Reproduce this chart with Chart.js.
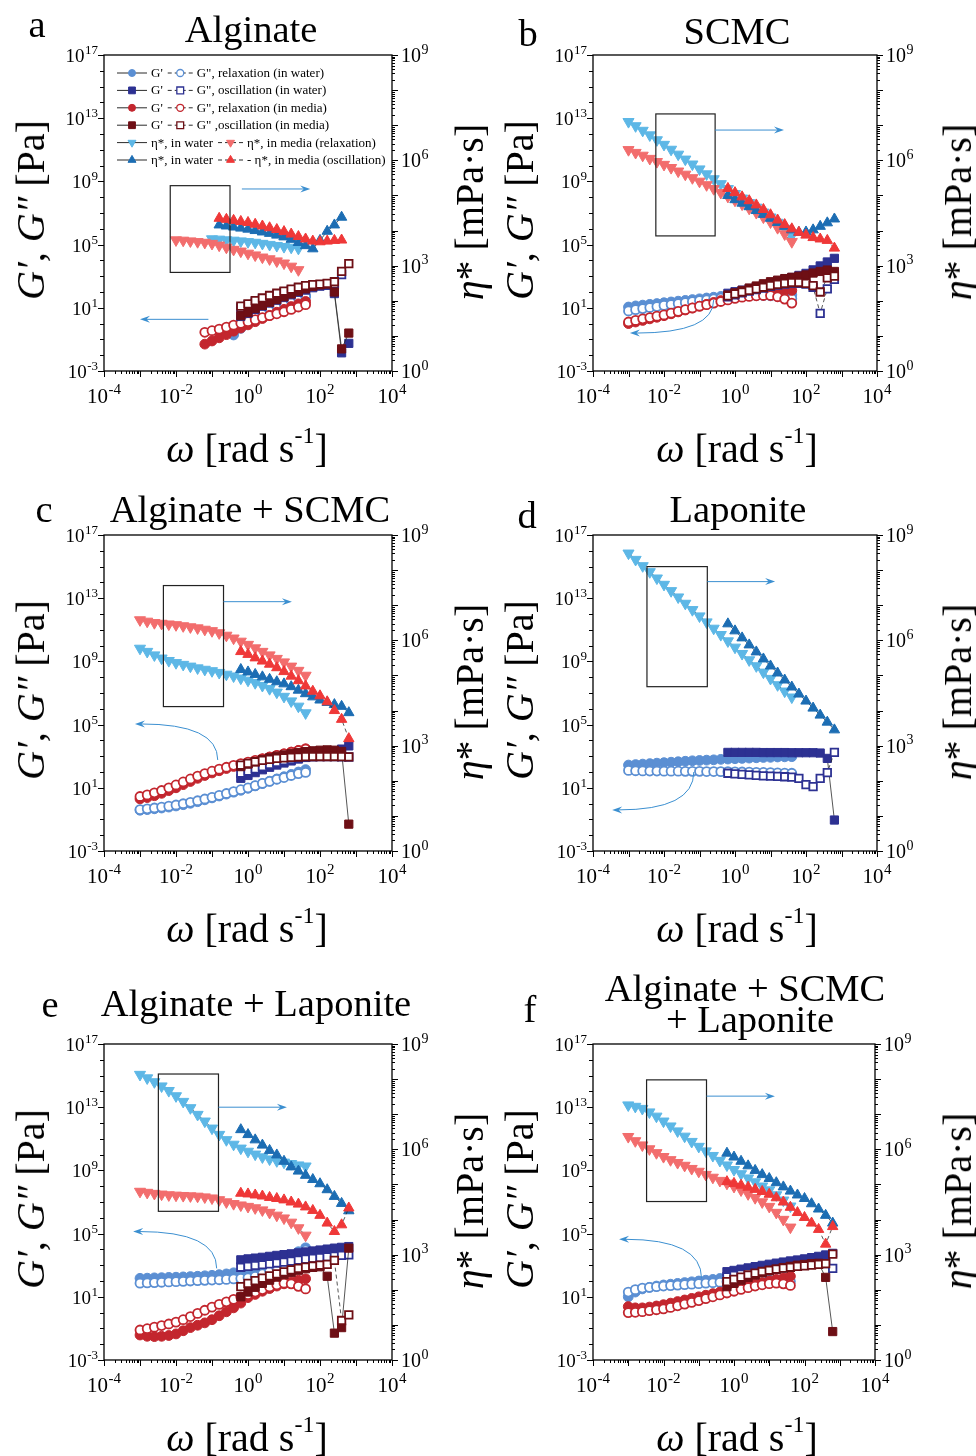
<!DOCTYPE html>
<html>
<head>
<meta charset="utf-8">
<script src="https://cdn.jsdelivr.net/npm/chart.js"></script>
<style>
  body { margin: 0; background: #fff; }
  #page { position: relative; width: 976px; height: 1456px; overflow: hidden; }
  .panel { position: absolute; width: 488px; height: 466px; }
  .lbl { position: absolute; transform: translate(-50%, -50%); white-space: nowrap; line-height: 1;
         font-family: "Liberation Serif", "Times New Roman", serif; color: #000; }
  .big { font-size: 38.5px; }
  .axt { font-size: 40px; }
  .vert { transform: translate(-50%, -50%) rotate(-90deg); }
  sup { font-size: 0.6em; position: relative; top: -0.15em; }
</style>
</head>
<body>
<div id="page">
  <div class="panel" style="left:0;top:0"><canvas id="pa" width="488" height="466"></canvas></div>
  <div class="panel" style="left:488px;top:0"><canvas id="pb" width="488" height="466"></canvas></div>
  <div class="panel" style="left:0;top:480px"><canvas id="pc" width="488" height="466"></canvas></div>
  <div class="panel" style="left:488px;top:480px"><canvas id="pd" width="488" height="466"></canvas></div>
  <div class="panel" style="left:0;top:990px"><canvas id="pe" width="488" height="466"></canvas></div>
  <div class="panel" style="left:488px;top:990px"><canvas id="pf" width="488" height="466"></canvas></div>

  <!-- panel letters and titles -->
  <div class="lbl big" style="left:37px;top:24px">a</div>
  <div class="lbl big" style="left:251px;top:29px">Alginate</div>
  <div class="lbl big" style="left:528px;top:33px">b</div>
  <div class="lbl big" style="left:737px;top:31px">SCMC</div>
  <div class="lbl big" style="left:44px;top:509px">c</div>
  <div class="lbl big" style="left:250px;top:509px">Alginate + SCMC</div>
  <div class="lbl big" style="left:527px;top:515px">d</div>
  <div class="lbl big" style="left:738px;top:509px">Laponite</div>
  <div class="lbl big" style="left:50px;top:1004px">e</div>
  <div class="lbl big" style="left:256px;top:1003px">Alginate + Laponite</div>
  <div class="lbl big" style="left:530px;top:1009px">f</div>
  <div class="lbl big" style="left:745px;top:988px">Alginate + SCMC</div>
  <div class="lbl big" style="left:750px;top:1019px">+ Laponite</div>

  <!-- axis titles -->
  <div class="lbl axt vert" style="left:31px;top:210px"><i>G′</i>, <i>G″</i> [Pa]</div>
  <div class="lbl axt vert" style="left:520px;top:210px"><i>G′</i>, <i>G″</i> [Pa]</div>
  <div class="lbl axt vert" style="left:31px;top:690px"><i>G′</i>, <i>G″</i> [Pa]</div>
  <div class="lbl axt vert" style="left:520px;top:690px"><i>G′</i>, <i>G″</i> [Pa]</div>
  <div class="lbl axt vert" style="left:31px;top:1199px"><i>G′</i>, <i>G″</i> [Pa]</div>
  <div class="lbl axt vert" style="left:520px;top:1199px"><i>G′</i>, <i>G″</i> [Pa]</div>

  <div class="lbl axt vert" style="left:470px;top:212px"><i>η</i>* [mPa·s]</div>
  <div class="lbl axt vert" style="left:958px;top:212px"><i>η</i>* [mPa·s]</div>
  <div class="lbl axt vert" style="left:470px;top:692px"><i>η</i>* [mPa·s]</div>
  <div class="lbl axt vert" style="left:958px;top:692px"><i>η</i>* [mPa·s]</div>
  <div class="lbl axt vert" style="left:470px;top:1201px"><i>η</i>* [mPa·s]</div>
  <div class="lbl axt vert" style="left:958px;top:1201px"><i>η</i>* [mPa·s]</div>

  <div class="lbl axt" style="left:247px;top:448px"><i>ω</i> [rad s<sup>-1</sup>]</div>
  <div class="lbl axt" style="left:737px;top:448px"><i>ω</i> [rad s<sup>-1</sup>]</div>
  <div class="lbl axt" style="left:247px;top:928px"><i>ω</i> [rad s<sup>-1</sup>]</div>
  <div class="lbl axt" style="left:737px;top:928px"><i>ω</i> [rad s<sup>-1</sup>]</div>
  <div class="lbl axt" style="left:247px;top:1437px"><i>ω</i> [rad s<sup>-1</sup>]</div>
  <div class="lbl axt" style="left:737px;top:1437px"><i>ω</i> [rad s<sup>-1</sup>]</div>
</div>

<script>
const _ = null;

// angular frequency grids, log10(rad/s)
const relaxLogW = [-3.0, -2.8, -2.6, -2.4, -2.2, -2.0, -1.8, -1.6, -1.4, -1.2, -1.0, -0.8,
                   -0.6, -0.4, -0.2, 0.0, 0.2, 0.4, 0.6, 0.8, 1.0, 1.2, 1.4, 1.6];
const oscLogW = [-0.8, -0.6, -0.4, -0.2, 0.0, 0.2, 0.4, 0.6, 0.8, 1.0, 1.2, 1.4, 1.6, 1.8,
                 2.0, 2.2, 2.4, 2.6, 2.8];

// tick label exponents
const xTickExp = [-4, -2, 0, 2, 4];
const gTickExp = [17, 13, 9, 5, 1, -3];
const etaTickExp = [0, 3, 6, 9];

// all series below are log10 values (G in Pa, eta* in mPa.s)

// a - Alginate
const a_GpWRel  = [_,_,_,_,_,_,_,_,_,_,_,_,_, -0.72,-0.3,0.05,0.35,0.6,0.85,1.05,1.25,1.45,1.6,1.75];
const a_GppWRel = [_,_,_,_,_,_,_,_,_,_,_,_,_, -0.5,-0.15,0.15,0.42,0.65,0.88,1.08,1.28,1.45,1.6,1.72];
const a_GpMRel  = [_,_,_,_,_,_,_,_,_, -1.3,-1.1,-0.9,-0.7,-0.48,-0.28,-0.08,0.12,0.32,0.52,0.72,0.9,1.08,1.25,1.4];
const a_GppMRel = [_,_,_,_,_,_,_,_,_, -0.55,-0.45,-0.35,-0.22,-0.1,0.02,0.12,0.25,0.38,0.5,0.62,0.75,0.9,1.05,1.2];
const a_etaWRel = [_,_,_,_,_,_,_,_,_,_, 3.76,3.75,3.73,3.72,3.70,3.68,3.66,3.63,3.60,3.57,3.54,3.52,3.49,_];
const a_etaMRel = [_,_,_,_,_, 3.73,3.72,3.70,3.68,3.66,3.63,3.58,3.52,3.46,3.41,3.35,3.30,3.24,3.19,3.13,3.07,2.98,2.88,_];
const a_GpWOsc  = [_,_,_, 0.45,0.65,0.9,1.1,1.3,1.48,1.65,1.82,1.98,2.12,2.27,2.37,2.42,1.9,-1.85,-1.25];
const a_GppWOsc = [_,_,_, 1.0,1.18,1.38,1.55,1.7,1.85,2.0,2.12,2.24,2.34,2.42,2.46,2.5,2.5,3.1,_];
const a_GpMOsc  = [_,_,_, 0.5,0.7,0.95,1.15,1.35,1.52,1.7,1.88,2.05,2.2,2.35,2.45,2.5,2.0,-1.6,-0.6];
const a_GppMOsc = [_,_,_, 1.1,1.25,1.45,1.62,1.78,1.92,2.06,2.18,2.3,2.4,2.47,2.5,2.55,2.65,3.3,3.8];
const a_etaWOsc = [4.16,4.13,4.10,4.07,4.04,4.00,3.96,3.92,3.87,3.82,3.75,3.66,3.57,3.48,3.72,3.98,4.16,4.38,_];
const a_etaMOsc = [4.35,4.32,4.29,4.26,4.23,4.18,4.13,4.08,4.03,3.97,3.90,3.83,3.76,3.70,3.68,3.70,3.72,3.73,_];

// b - SCMC
const b_GpWRel  = [1.05,1.12,1.17,1.22,1.27,1.32,1.37,1.42,1.47,1.52,1.57,1.62,1.67,1.72,1.76,1.80,1.83,1.85,1.87,1.88,1.88,1.87,1.85,1.82];
const b_GppWRel = [0.8,0.88,0.95,1.02,1.08,1.15,1.21,1.27,1.33,1.39,1.45,1.5,1.56,1.61,1.66,1.7,1.74,1.76,1.78,1.78,1.76,1.72,1.66,1.58];
const b_GpMRel  = [0.0,0.1,0.2,0.3,0.4,0.5,0.62,0.74,0.86,0.98,1.1,1.22,1.34,1.46,1.58,1.7,1.8,1.88,1.95,2.0,2.04,2.07,2.09,2.1];
const b_GppMRel = [0.1,0.2,0.3,0.38,0.47,0.55,0.66,0.77,0.88,0.99,1.1,1.2,1.3,1.4,1.5,1.6,1.67,1.72,1.76,1.78,1.78,1.7,1.55,1.3];
const b_etaWRel = [7.10,6.98,6.85,6.72,6.58,6.45,6.31,6.17,6.03,5.89,5.75,5.61,5.47,5.33,5.19,5.05,4.92,4.79,4.66,4.52,4.38,4.23,4.05,3.85];
const b_etaMRel = [6.30,6.22,6.14,6.05,5.96,5.88,5.79,5.69,5.60,5.50,5.40,5.30,5.19,5.08,4.97,4.86,4.75,4.63,4.51,4.38,4.24,4.08,3.90,3.68];
const b_GpWOsc  = [_,_,_, 1.92,2.02,2.12,2.22,2.33,2.44,2.55,2.67,2.8,2.92,3.05,3.18,3.4,3.65,3.9,4.13];
const b_GppWOsc = [_,_,_, 1.7,1.82,1.95,2.05,2.15,2.25,2.35,2.43,2.5,2.55,2.55,2.5,2.3,0.65,2.2,2.8];
const b_GpMOsc  = [_,_,_, 1.81,1.95,2.1,2.25,2.38,2.52,2.65,2.75,2.85,2.93,3.0,3.08,3.2,3.3,3.39,3.3];
const b_GppMOsc = [_,_,_, 1.75,1.88,2.0,2.1,2.2,2.3,2.4,2.48,2.55,2.6,2.6,2.55,2.4,2.0,2.9,3.0];
const b_etaWOsc = [_,_,_, 5.0,4.88,4.78,4.68,4.57,4.46,4.35,4.23,4.12,4.02,3.95,3.96,4.02,4.12,4.22,4.33];
const b_etaMOsc = [_,_,_, 5.2,5.08,4.96,4.85,4.73,4.6,4.45,4.3,4.17,4.05,3.95,3.87,3.8,3.76,3.72,3.5];

// c - Alginate + SCMC
const c_GpWRel  = [-0.42,-0.38,-0.33,-0.28,-0.22,-0.15,-0.07,0.02,0.12,0.24,0.36,0.48,0.6,0.72,0.84,0.97,1.12,1.27,1.42,1.56,1.7,1.85,2.0,2.15];
const c_GppWRel = [-0.38,-0.33,-0.28,-0.22,-0.16,-0.09,-0.01,0.08,0.18,0.29,0.4,0.52,0.64,0.76,0.88,1.0,1.14,1.28,1.41,1.54,1.65,1.78,1.9,1.97];
const c_GpMRel  = [0.3,0.38,0.5,0.65,0.82,1.0,1.2,1.4,1.6,1.78,1.94,2.08,2.22,2.35,2.47,2.58,2.7,2.82,2.93,3.04,3.15,3.26,3.37,3.47];
const c_GppMRel = [0.45,0.55,0.68,0.83,1.0,1.18,1.37,1.56,1.74,1.9,2.05,2.18,2.3,2.42,2.53,2.63,2.74,2.85,2.95,3.05,3.15,3.25,3.35,3.45];
const c_etaWRel = [5.77,5.68,5.58,5.49,5.42,5.36,5.31,5.26,5.21,5.17,5.13,5.08,5.03,4.98,4.92,4.86,4.79,4.71,4.62,4.52,4.40,4.27,4.12,3.93];
const c_etaMRel = [6.58,6.54,6.50,6.48,6.46,6.44,6.41,6.38,6.35,6.31,6.27,6.21,6.14,6.06,5.97,5.88,5.78,5.68,5.58,5.48,5.38,5.26,5.14,5.00];
const c_GpWOsc  = [_,_,_, 1.6,1.78,1.96,2.14,2.3,2.44,2.57,2.7,2.82,2.92,3.02,3.1,3.2,3.3,3.45,3.65];
const c_GppWOsc = [_,_,_, 1.92,2.05,2.2,2.34,2.48,2.6,2.72,2.8,2.88,2.93,2.96,2.98,2.98,2.97,2.96,2.95];
const c_GpMOsc  = [_,_,_, 2.34,2.5,2.65,2.78,2.9,3.0,3.08,3.16,3.23,3.29,3.34,3.38,3.4,3.38,3.3,-1.3];
const c_GppMOsc = [_,_,_, 2.44,2.55,2.65,2.74,2.8,2.86,2.9,2.93,2.95,2.97,2.98,2.98,2.98,2.98,2.97,2.96];
const c_etaWOsc = [_,_,_, 5.17,5.1,5.03,4.96,4.89,4.82,4.76,4.68,4.58,4.48,4.39,4.3,4.23,4.17,4.12,3.94];
const c_etaMOsc = [_,_,_, 5.68,5.6,5.5,5.41,5.32,5.22,5.11,4.98,4.85,4.7,4.55,4.42,4.25,4.0,3.75,3.2];

// d - Laponite (water only)
const d_GpWRel  = [2.44,2.47,2.5,2.53,2.56,2.59,2.62,2.65,2.68,2.71,2.73,2.75,2.77,2.8,2.82,2.84,2.86,2.88,2.9,2.92,2.93,2.95,2.96,2.97];
const d_GppWRel = [2.1,2.08,2.07,2.06,2.06,2.05,2.05,2.05,2.04,2.04,2.04,2.03,2.03,2.02,2.02,2.01,2.0,1.99,1.98,1.97,1.96,1.95,1.93,1.92];
const d_etaWRel = [8.48,8.30,8.12,7.95,7.77,7.59,7.41,7.23,7.05,6.87,6.69,6.52,6.34,6.16,5.98,5.80,5.62,5.44,5.27,5.09,4.91,4.73,4.55,4.38];
const d_GpWOsc  = [_,_,_, 3.24,3.24,3.24,3.24,3.24,3.23,3.23,3.23,3.23,3.22,3.22,3.22,3.22,3.2,2.86,-1.04];
const d_GppWOsc = [_,_,_, 1.92,1.88,1.85,1.82,1.79,1.76,1.74,1.72,1.7,1.68,1.6,1.2,1.08,1.6,1.96,3.24];
const d_etaWOsc = [_,_,_, 6.47,6.27,6.07,5.87,5.67,5.47,5.27,5.07,4.87,4.67,4.47,4.27,4.07,3.87,3.67,3.45];

// e - Alginate + Laponite
const e_GpWRel  = [2.17,2.18,2.2,2.21,2.23,2.24,2.26,2.28,2.3,2.33,2.36,2.4,2.45,2.52,2.6,2.7,2.82,2.96,3.1,3.25,3.4,3.6,3.85,4.1];
const e_GppWRel = [1.86,1.88,1.9,1.92,1.94,1.96,1.98,2.0,2.02,2.04,2.06,2.08,2.1,2.13,2.16,2.2,2.3,2.45,2.62,2.8,3.0,3.25,3.55,3.95];
const e_GpMRel  = [-1.42,-1.5,-1.52,-1.5,-1.45,-1.35,-1.15,-0.95,-0.8,-0.65,-0.45,-0.2,0.05,0.3,0.6,0.95,1.15,1.35,1.52,1.68,1.82,1.95,2.05,2.14];
const e_GppMRel = [-1.1,-1.02,-0.92,-0.82,-0.72,-0.6,-0.45,-0.25,-0.05,0.15,0.35,0.52,0.68,0.84,1.0,1.14,1.3,1.46,1.62,1.76,1.86,1.82,1.66,1.5];
const e_etaWRel = [8.13,8.03,7.92,7.80,7.67,7.52,7.36,7.18,6.99,6.80,6.60,6.42,6.27,6.14,6.03,5.94,5.86,5.78,5.72,5.67,5.63,5.59,5.55,5.52];
const e_etaMRel = [4.80,4.77,4.74,4.72,4.70,4.69,4.68,4.67,4.66,4.64,4.61,4.56,4.50,4.45,4.41,4.37,4.33,4.27,4.20,4.12,4.04,3.92,3.76,3.55];
const e_GpWOsc  = [_,_,_, 3.34,3.4,3.45,3.5,3.56,3.62,3.67,3.72,3.78,3.84,3.9,3.96,4.02,4.08,4.13,4.18];
const e_GppWOsc = [_,_,_, 2.87,2.93,2.98,3.03,3.08,3.14,3.2,3.26,3.32,3.38,3.43,3.48,3.53,3.58,3.62,3.65];
const e_GpMOsc  = [_,_,_, 1.0,1.3,1.6,1.85,2.05,2.25,2.4,2.55,2.68,2.78,2.86,2.9,2.3,-1.3,-0.95,4.08];
const e_GppMOsc = [_,_,_, 1.65,1.85,2.02,2.18,2.32,2.45,2.58,2.7,2.8,2.88,2.95,3.0,3.05,3.3,-0.5,-0.15];
const e_etaWOsc = [_,_,_, 6.56,6.42,6.27,6.12,5.97,5.84,5.66,5.5,5.38,5.26,5.14,5.02,4.85,4.66,4.46,4.25];
const e_etaMOsc = [_,_,_, 4.75,4.73,4.7,4.67,4.63,4.6,4.56,4.5,4.44,4.36,4.26,4.12,3.9,3.66,3.85,4.33];

// f - Alginate + SCMC + Laponite
const f_GpWRel  = [1.0,1.3,1.5,1.6,1.68,1.75,1.8,1.85,1.9,1.95,2.0,2.05,2.1,2.16,2.22,2.28,2.35,2.42,2.5,2.58,2.66,2.74,2.82,2.9];
const f_GppWRel = [1.3,1.45,1.55,1.6,1.64,1.68,1.71,1.74,1.77,1.8,1.83,1.86,1.89,1.92,1.95,1.98,2.0,2.02,2.04,2.05,2.06,2.05,2.02,1.97];
const f_GpMRel  = [0.38,0.3,0.3,0.35,0.42,0.5,0.6,0.7,0.8,0.9,1.0,1.1,1.2,1.3,1.4,1.5,1.6,1.7,1.8,1.9,2.0,2.1,2.2,2.3];
const f_GppMRel = [0.0,0.02,0.06,0.12,0.18,0.24,0.33,0.43,0.54,0.65,0.76,0.88,1.0,1.12,1.24,1.35,1.47,1.58,1.68,1.76,1.83,1.86,1.82,1.72];
const f_etaWRel = [7.26,7.22,7.16,7.06,6.94,6.80,6.66,6.52,6.37,6.22,6.08,5.95,5.82,5.68,5.55,5.42,5.30,5.18,5.07,4.95,4.84,4.70,4.55,4.38];
const f_etaMRel = [6.36,6.24,6.12,6.01,5.90,5.79,5.70,5.62,5.54,5.45,5.37,5.28,5.20,5.11,5.03,4.94,4.84,4.73,4.62,4.50,4.37,4.20,4.00,3.78];
const f_GpWOsc  = [_,_,_, 2.59,2.67,2.75,2.83,2.91,2.99,3.06,3.13,3.2,3.27,3.33,3.4,3.48,3.56,3.65,3.75];
const f_GppWOsc = [_,_,_, 2.27,2.35,2.43,2.5,2.58,2.65,2.72,2.79,2.86,2.92,2.98,3.03,3.08,3.12,3.1,2.8];
const f_GpMOsc  = [_,_,_, 1.64,1.85,2.05,2.22,2.38,2.52,2.64,2.75,2.85,2.93,3.0,3.05,3.1,3.12,2.23,-1.2];
const f_GppMOsc = [_,_,_, 1.96,2.1,2.25,2.38,2.5,2.6,2.68,2.75,2.82,2.87,2.92,2.96,3.0,3.05,3.1,3.7];
const f_etaWOsc = [_,_,_, 5.89,5.78,5.66,5.53,5.4,5.28,5.17,5.05,4.93,4.81,4.7,4.6,4.45,4.3,4.12,3.9];
const f_etaMOsc = [_,_,_, 5.08,5.03,4.98,4.92,4.86,4.8,4.72,4.62,4.5,4.35,4.2,4.06,3.9,3.72,3.3,3.8];

// Series styles (order: lower = drawn on top)
const FONT = '"Liberation Serif", "Times New Roman", serif';
const LINE = '#2b2b2b';
const styles = {
  GpWRel:  { color: '#5b8fd3', shape: 'circle',   r: 4.9, open: false, dash: false, axis: 'yL', order: 11 },
  GppWRel: { color: '#5b8fd3', shape: 'circle',   r: 4.5, open: true,  dash: true,  axis: 'yL', order: 10 },
  GpWOsc:  { color: '#2d3192', shape: 'rect',     r: 5.8, open: false, dash: false, axis: 'yL', order: 7 },
  GppWOsc: { color: '#2d3192', shape: 'rect',     r: 5.3, open: true,  dash: true,  axis: 'yL', order: 6 },
  GpMRel:  { color: '#c3262e', shape: 'circle',   r: 4.9, open: false, dash: false, axis: 'yL', order: 9 },
  GppMRel: { color: '#c3262e', shape: 'circle',   r: 4.5, open: true,  dash: true,  axis: 'yL', order: 8 },
  GpMOsc:  { color: '#6e0f15', shape: 'rect',     r: 5.8, open: false, dash: false, axis: 'yL', order: 5 },
  GppMOsc: { color: '#6e0f15', shape: 'rect',     r: 5.3, open: true,  dash: true,  axis: 'yL', order: 4 },
  etaWRel: { color: '#5db7e6', shape: 'triangle', r: 6.4, rot: 180, dash: false, axis: 'yR', order: 3 },
  etaMRel: { color: '#f26d6d', shape: 'triangle', r: 6.4, rot: 180, dash: true,  axis: 'yR', order: 2 },
  etaWOsc: { color: '#1c6db3', shape: 'triangle', r: 6.0, rot: 0,   dash: false, axis: 'yR', order: 1 },
  etaMOsc: { color: '#ef3838', shape: 'triangle', r: 6.0, rot: 0,   dash: true,  axis: 'yR', order: 0 }
};

// Legend rows (panel a only)
const legendRows = [
  ['GpWRel', "G'", 'GppWRel', 'G", relaxation (in water)'],
  ['GpWOsc', "G'", 'GppWOsc', 'G", oscillation (in water)'],
  ['GpMRel', "G'", 'GppMRel', 'G", relaxation (in media)'],
  ['GpMOsc', "G'", 'GppMOsc', 'G" ,oscillation (in media)'],
  ['etaWRel', 'η*, in water', 'etaMRel', 'η*, in media (relaxation)'],
  ['etaWOsc', 'η*, in water', 'etaMOsc', '- η*, in media (oscillation)']
];

function makeDataset(key, logV) {
  const s = styles[key];
  const logW = key.includes('Rel') ? relaxLogW : oscLogW;
  const pts = [];
  logW.forEach((w, i) => {
    if (logV[i] !== null && logV[i] !== undefined) pts.push({ x: Math.pow(10, w), y: Math.pow(10, logV[i]) });
  });
  return {
    data: pts,
    yAxisID: s.axis,
    showLine: true,
    borderColor: LINE,
    borderWidth: 0.8,
    borderDash: s.dash ? [4, 3] : [],
    pointStyle: s.shape,
    pointRotation: s.rot || 0,
    pointRadius: s.r,
    pointHoverRadius: s.r,
    pointBackgroundColor: s.open ? '#ffffff' : s.color,
    pointBorderColor: s.color,
    pointBorderWidth: s.open ? 1.8 : 1,
    order: s.order
  };
}

// draw a marker shape by hand (legend)
function marker(ctx, s, x, y, r) {
  ctx.beginPath();
  if (s.shape === 'circle') {
    ctx.arc(x, y, r, 0, Math.PI * 2);
  } else if (s.shape === 'rect') {
    const h = r * Math.SQRT1_2;
    ctx.rect(x - h, y - h, 2 * h, 2 * h);
  } else {
    const d = s.rot ? -1 : 1;
    ctx.moveTo(x, y - d * r);
    ctx.lineTo(x + r * 0.866, y + d * r * 0.5);
    ctx.lineTo(x - r * 0.866, y + d * r * 0.5);
    ctx.closePath();
  }
  ctx.fillStyle = s.open ? '#fff' : s.color;
  ctx.strokeStyle = s.color;
  ctx.lineWidth = s.open ? 1.3 : 1;
  ctx.fill();
  ctx.stroke();
}

// "10" with a raised exponent
function drawPow(ctx, exp, x, y, align, size) {
  const sub = Math.round(size * 0.7);
  ctx.font = size + 'px ' + FONT;
  const wb = ctx.measureText('10').width;
  ctx.font = sub + 'px ' + FONT;
  const ws = ctx.measureText(String(exp)).width;
  const w = wb + ws + 0.5;
  const x0 = align === 'right' ? x - w : align === 'center' ? x - w / 2 : x;
  ctx.textAlign = 'left';
  ctx.textBaseline = 'alphabetic';
  ctx.fillStyle = '#000';
  ctx.font = size + 'px ' + FONT;
  ctx.fillText('10', x0, y);
  ctx.font = sub + 'px ' + FONT;
  ctx.fillText(String(exp), x0 + wb + 0.5, y - size * 0.42);
}

function arrowHead(ctx, x, y, ang) {
  ctx.beginPath();
  ctx.moveTo(x, y);
  ctx.lineTo(x - 10 * Math.cos(ang) + 3.5 * Math.sin(ang), y - 10 * Math.sin(ang) - 3.5 * Math.cos(ang));
  ctx.lineTo(x - 6.5 * Math.cos(ang), y - 6.5 * Math.sin(ang));
  ctx.lineTo(x - 10 * Math.cos(ang) - 3.5 * Math.sin(ang), y - 10 * Math.sin(ang) + 3.5 * Math.cos(ang));
  ctx.closePath();
  ctx.fill();
}

const axesPlugin = {
  id: 'rheoAxes',
  afterDatasetsDraw(chart, args, opts) {
    const ctx = chart.ctx;
    const { left, right, top, bottom } = chart.chartArea;
    const sx = chart.scales.x, sl = chart.scales.yL, sr = chart.scales.yR;
    const px = v => sx.getPixelForValue(Math.pow(10, v));
    const pl = v => sl.getPixelForValue(Math.pow(10, v));
    const pr = v => sr.getPixelForValue(Math.pow(10, v));
    ctx.save();

    // guide box and arrows
    const an = opts.ann;
    ctx.strokeStyle = '#222';
    ctx.lineWidth = 1.2;
    ctx.strokeRect(px(an.box[0]), pl(an.box[3]), px(an.box[1]) - px(an.box[0]), pl(an.box[2]) - pl(an.box[3]));
    ctx.strokeStyle = '#3b8fd0';
    ctx.fillStyle = '#3b8fd0';
    ctx.lineWidth = 1;
    const ar = an.right;
    ctx.beginPath();
    ctx.moveTo(px(ar[0]), pl(ar[2]));
    ctx.lineTo(px(ar[1]) - 6, pl(ar[2]));
    ctx.stroke();
    arrowHead(ctx, px(ar[1]), pl(ar[2]), 0);
    const al = an.left;
    const x0 = px(al[0]), y0 = pl(al[1]), x1 = px(al[2]), y1 = pl(al[3]);
    ctx.beginPath();
    ctx.moveTo(x0, y0);
    if (an.curved) ctx.quadraticCurveTo(x0, y1, x1 + 6, y1);
    else ctx.lineTo(x1 + 6, y1);
    ctx.stroke();
    arrowHead(ctx, x1, y1, Math.PI);

    // frame
    ctx.strokeStyle = '#000';
    ctx.fillStyle = '#000';
    ctx.lineWidth = 1.3;
    ctx.strokeRect(left, top, right - left, bottom - top);
    ctx.lineWidth = 1;
    ctx.beginPath();
    // x ticks
    for (let d = -4; d <= 4; d++) {
      const xp = Math.round(px(d)) + 0.5;
      ctx.moveTo(xp, bottom); ctx.lineTo(xp, bottom + 6);
      if (d < 4) for (let m = 2; m <= 9; m++) {
        const xm = Math.round(px(d + Math.log10(m))) + 0.5;
        ctx.moveTo(xm, bottom); ctx.lineTo(xm, bottom + 3);
      }
    }
    // left ticks (every decade)
    for (let d = -3; d <= 17; d++) {
      const yp = Math.round(pl(d)) + 0.5;
      const len = gTickExp.includes(d) ? 6 : 4;
      ctx.moveTo(left, yp); ctx.lineTo(left - len, yp);
    }
    // right ticks
    for (let d = 0; d <= 9; d++) {
      const yp = Math.round(pr(d)) + 0.5;
      ctx.moveTo(right, yp); ctx.lineTo(right + 6, yp);
      if (d < 9) for (let m = 2; m <= 9; m++) {
        const ym = Math.round(pr(d + Math.log10(m))) + 0.5;
        ctx.moveTo(right, ym); ctx.lineTo(right + 3, ym);
      }
    }
    ctx.stroke();

    xTickExp.forEach(e => drawPow(ctx, e, px(e), bottom + 32, 'center', 21));
    gTickExp.forEach(e => drawPow(ctx, e, left - 6, pl(e) + 7, 'right', 19));
    etaTickExp.forEach(e => drawPow(ctx, e, right + 9, pr(e) + 7, 'left', 20));

    // legend
    if (opts.legend) {
      let y = top + 18;
      ctx.textBaseline = 'middle';
      ctx.textAlign = 'left';
      legendRows.forEach(row => {
        let x = left + 13;
        for (let k = 0; k < 2; k++) {
          const s = styles[row[2 * k]];
          const len = k === 0 ? 30 : 25;
          ctx.strokeStyle = LINE;
          ctx.lineWidth = 1;
          ctx.setLineDash(s.dash ? [4, 3] : []);
          ctx.beginPath(); ctx.moveTo(x, y); ctx.lineTo(x + len, y); ctx.stroke();
          ctx.setLineDash([]);
          marker(ctx, s, x + len / 2, y, s.shape === 'triangle' ? 4.6 : (s.shape === 'rect' ? 4.8 : 3.5));
          x += len + 4;
          ctx.fillStyle = '#000';
          ctx.font = '13px ' + FONT;
          ctx.fillText(row[2 * k + 1], x, y + 0.5);
          x += ctx.measureText(row[2 * k + 1]).width + 5;
        }
        y += 17.4;
      });
    }
    ctx.restore();
  }
};

function makePanel(canvasId, area, ann, series, legend) {
  const datasets = Object.keys(series).map(k => makeDataset(k, series[k]));
  const canvas = document.getElementById(canvasId);
  return new Chart(canvas, {
    type: 'scatter',
    data: { datasets },
    options: {
      responsive: false,
      animation: false,
      devicePixelRatio: 1,
      events: [],
      layout: { padding: { left: area[0], top: area[1], right: 488 - area[2], bottom: 466 - area[3] } },
      scales: {
        x: { type: 'logarithmic', min: 1e-4, max: 1e4, display: false },
        yL: { type: 'logarithmic', position: 'left', min: 1e-3, max: 1e17, display: false },
        yR: { type: 'logarithmic', position: 'right', min: 1, max: 1e9, display: false }
      },
      plugins: {
        legend: { display: false },
        tooltip: { enabled: false },
        rheoAxes: { ann, legend }
      }
    },
    plugins: [axesPlugin]
  });
}

// box [w0, w1, g0, g1], right arrow [w0, w1, g], left arrow [w0, g0, w1, g1] (log10 units)
makePanel('pa', [104, 55, 392, 371],
  { box: [-2.16, -0.5, 3.24, 8.73], right: [-0.17, 1.73, 8.52], left: [-1.1, 0.27, -3.0, 0.27], curved: false },
  { GpWRel: a_GpWRel, GppWRel: a_GppWRel, GpWOsc: a_GpWOsc, GppWOsc: a_GppWOsc,
    GpMRel: a_GpMRel, GppMRel: a_GppMRel, GpMOsc: a_GpMOsc, GppMOsc: a_GppMOsc,
    etaWRel: a_etaWRel, etaMRel: a_etaMRel, etaWOsc: a_etaWOsc, etaMOsc: a_etaMOsc }, true);

makePanel('pb', [105, 55, 389, 371],
  { box: [-2.23, -0.56, 5.55, 13.27], right: [-0.56, 1.38, 12.25], left: [-0.6, 1.5, -2.96, -0.6], curved: true },
  { GpWRel: b_GpWRel, GppWRel: b_GppWRel, GpWOsc: b_GpWOsc, GppWOsc: b_GppWOsc,
    GpMRel: b_GpMRel, GppMRel: b_GppMRel, GpMOsc: b_GpMOsc, GppMOsc: b_GppMOsc,
    etaWRel: b_etaWRel, etaMRel: b_etaMRel, etaWOsc: b_etaWOsc, etaMOsc: b_etaMOsc }, false);

makePanel('pc', [104, 55, 392, 371],
  { box: [-2.35, -0.68, 6.14, 13.8], right: [-0.68, 1.22, 12.78], left: [-0.84, 2.76, -3.14, 5.04], curved: true },
  { GpWRel: c_GpWRel, GppWRel: c_GppWRel, GpWOsc: c_GpWOsc, GppWOsc: c_GppWOsc,
    GpMRel: c_GpMRel, GppMRel: c_GppMRel, GpMOsc: c_GpMOsc, GppMOsc: c_GppMOsc,
    etaWRel: c_etaWRel, etaMRel: c_etaMRel, etaWOsc: c_etaWOsc, etaMOsc: c_etaMOsc }, false);

makePanel('pd', [105, 55, 389, 371],
  { box: [-2.48, -0.78, 7.4, 15.0], right: [-0.78, 1.13, 14.05], left: [-1.16, 2.0, -3.46, -0.4], curved: true },
  { GpWRel: d_GpWRel, GppWRel: d_GppWRel, GpWOsc: d_GpWOsc, GppWOsc: d_GppWOsc,
    etaWRel: d_etaWRel, etaWOsc: d_etaWOsc }, false);

makePanel('pe', [104, 54, 392, 370],
  { box: [-2.49, -0.82, 6.41, 15.1], right: [-0.82, 1.08, 13.0], left: [-0.87, 2.8, -3.19, 5.13], curved: true },
  { GpWRel: e_GpWRel, GppWRel: e_GppWRel, GpWOsc: e_GpWOsc, GppWOsc: e_GppWOsc,
    GpMRel: e_GpMRel, GppMRel: e_GppMRel, GpMOsc: e_GpMOsc, GppMOsc: e_GppMOsc,
    etaWRel: e_etaWRel, etaMRel: e_etaMRel, etaWOsc: e_etaWOsc, etaMOsc: e_etaMOsc }, false);

makePanel('pf', [105, 54, 387, 370],
  { box: [-2.48, -0.78, 7.03, 14.73], right: [-0.78, 1.16, 13.7], left: [-0.92, 2.17, -3.26, 4.64], curved: true },
  { GpWRel: f_GpWRel, GppWRel: f_GppWRel, GpWOsc: f_GpWOsc, GppWOsc: f_GppWOsc,
    GpMRel: f_GpMRel, GppMRel: f_GppMRel, GpMOsc: f_GpMOsc, GppMOsc: f_GppMOsc,
    etaWRel: f_etaWRel, etaMRel: f_etaMRel, etaWOsc: f_etaWOsc, etaMOsc: f_etaMOsc }, false);
</script>
</body>
</html>
